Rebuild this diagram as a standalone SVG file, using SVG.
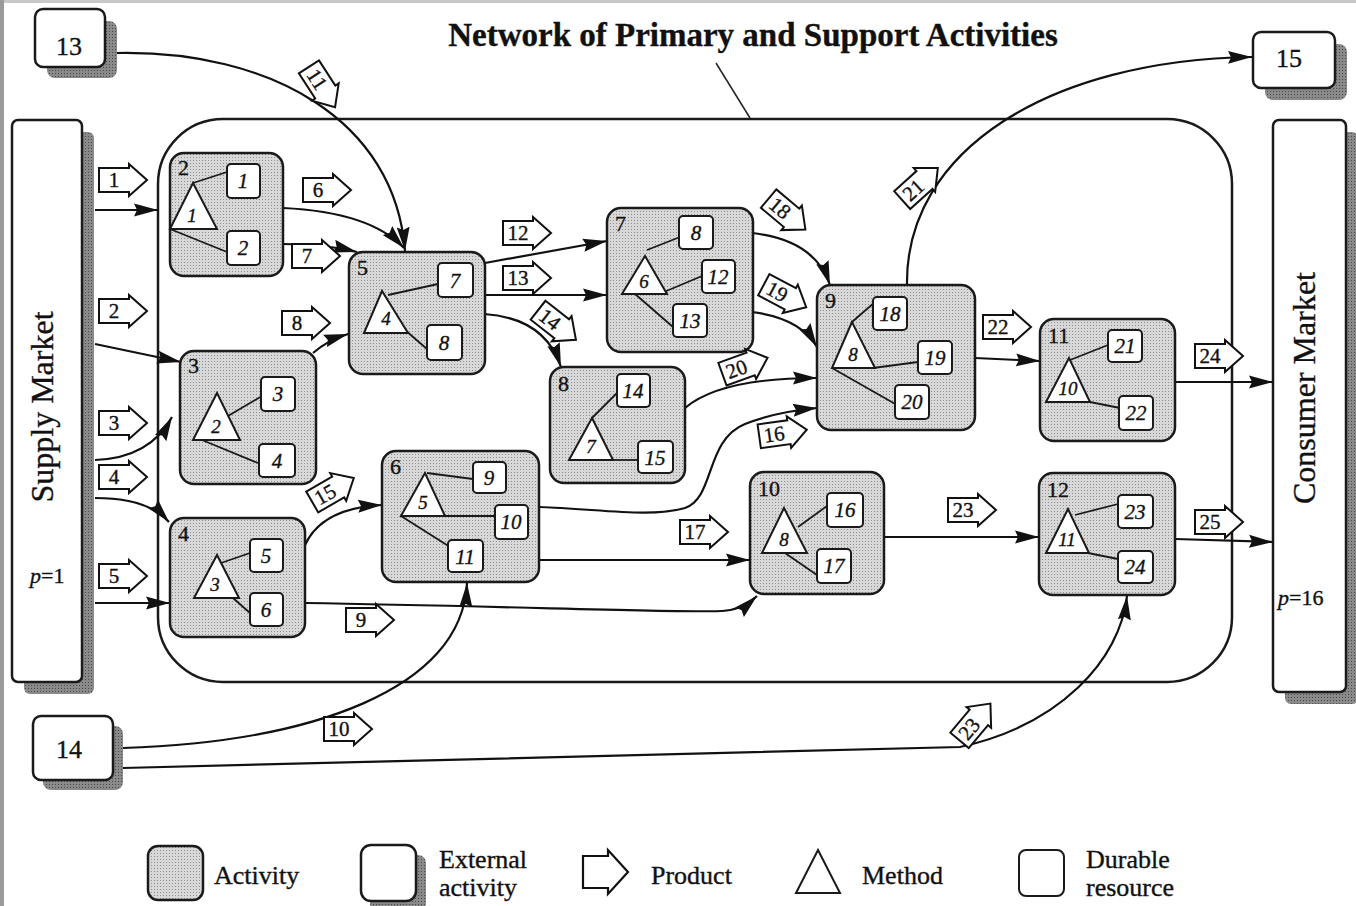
<svg xmlns="http://www.w3.org/2000/svg" width="1356" height="906" viewBox="0 0 1356 906">
<defs>
<pattern id="stip" width="3" height="3" patternUnits="userSpaceOnUse"><rect width="3" height="3" fill="#d8d8d8"/><rect x="1" y="1" width="1" height="1" fill="#8e8e8e"/></pattern>
<pattern id="shade" width="3" height="3" patternUnits="userSpaceOnUse"><rect width="3" height="3" fill="#8a8a8a"/><rect x="1" y="1" width="1" height="1" fill="#4a4a4a"/></pattern>
<marker id="ah" markerUnits="userSpaceOnUse" markerWidth="26" markerHeight="14" refX="24" refY="7" orient="auto"><path d="M0,0.5 L24,7 L0,13.5 L3,7 z" fill="#111"/></marker>
<polygon id="prod" points="-24,-12 6,-12 6,-16 24,0 6,16 6,12 -24,12" fill="#fff" stroke="#111" stroke-width="2" stroke-linejoin="miter"/>
<style>
.act{fill:url(#stip);stroke:#1a1a1a;stroke-width:2.5}
.res{fill:#fff;stroke:#1a1a1a;stroke-width:2}
.tri{fill:#fff;stroke:#1a1a1a;stroke-width:2}
.ln{stroke:#1a1a1a;stroke-width:1.8;fill:none}
.ext{fill:#fff;stroke:#1a1a1a;stroke-width:2.5}
.shd{fill:url(#shade);stroke:none}
.con{fill:none;stroke:#111;stroke-width:2.2;marker-end:url(#ah)}
.t{font-family:"Liberation Serif","Times New Roman",serif;fill:#111;stroke:#111;stroke-width:0.35}
.lab{font-size:22px}
.rn{font-size:21px;font-style:italic;text-anchor:middle}
.tn{font-size:19px;font-style:italic;text-anchor:middle}
.pn{font-size:21px;text-anchor:middle}
.en{font-size:26px;text-anchor:middle}
.leg{font-size:26px}
</style>
</defs>
<rect width="1356" height="906" fill="#fff"/>
<rect x="0" y="0" width="1356" height="3" fill="#c8c8c8"/>
<rect x="0" y="0" width="4" height="906" fill="#9a9a9a"/>

<g id="title">
<text class="t" x="753" y="46" font-size="33" font-weight="bold" text-anchor="middle">Network of Primary and Support Activities</text>
<line x1="716" y1="63" x2="750" y2="118" stroke="#222" stroke-width="1.5"/>
</g>

<g id="network"><rect x="158" y="119" width="1074" height="563" rx="65" fill="none" stroke="#1a1a1a" stroke-width="2.5"/></g>

<g id="supply">
<rect class="shd" x="24" y="132" width="70" height="562" rx="6"/>
<rect class="ext" x="12" y="120" width="70" height="562" rx="6"/>
<text class="t" transform="translate(53,407) rotate(-90)" font-size="32" text-anchor="middle">Supply Market</text>
<text class="t" x="30" y="583" font-size="22"><tspan font-style="italic">p</tspan>=1</text>
</g>
<g id="consumer">
<rect class="shd" x="1285" y="132" width="73" height="572" rx="6"/>
<rect class="ext" x="1273" y="120" width="73" height="572" rx="6"/>
<text class="t" transform="translate(1315,388) rotate(-90)" font-size="32" text-anchor="middle">Consumer Market</text>
<text class="t" x="1278" y="605" font-size="22"><tspan font-style="italic">p</tspan>=16</text>
</g>
<g id="ext13">
<rect class="shd" x="47" y="21" width="70" height="57" rx="8"/>
<rect class="ext" x="35" y="9" width="70" height="58" rx="8"/>
<text class="t en" x="69" y="55">13</text>
</g>
<g id="ext15">
<rect class="shd" x="1265" y="44" width="82" height="56" rx="8"/>
<rect class="ext" x="1253" y="32" width="82" height="56" rx="8"/>
<text class="t en" x="1289" y="67">15</text>
</g>
<g id="ext14">
<rect class="shd" x="43" y="726" width="80" height="64" rx="8"/>
<rect class="ext" x="33" y="716" width="80" height="64" rx="8"/>
<text class="t en" x="69" y="758">14</text>
</g>

<g id="connectors">
<path class="con" d="M95,210 L158,210"/>
<path class="con" d="M95,344 L181,362"/>
<path class="con" d="M95,460 Q150,458 172,417"/>
<path class="con" d="M95,498 Q148,498 169,522"/>
<path class="con" d="M95,603 L170,603"/>
<path class="con" d="M283,208 Q370,212 404,248"/>
<path class="con" d="M283,244 Q325,244 357,252"/>
<path class="con" d="M313,353 Q328,340 348,334"/>
<path class="con" d="M305,603 C500,606 690,613 722,611 Q742,610 757,596"/>
<path class="con" d="M123,748 C310,742 462,690 467,583"/>
<path class="con" d="M117,53 C270,50 395,120 405,251"/>
<path class="con" d="M485,263 L607,241"/>
<path class="con" d="M485,295 L607,295"/>
<path class="con" d="M484,314 Q545,318 561,367"/>
<path class="con" d="M305,545 Q322,508 382,505"/>
<path class="con" d="M539,507 C600,509 650,518 685,508 C715,498 705,440 745,424 Q775,412 817,408"/>
<path class="con" d="M539,560 L750,560"/>
<path class="con" d="M752,233 Q815,240 830,285"/>
<path class="con" d="M752,312 Q800,318 817,347"/>
<path class="con" d="M685,408 Q720,378 817,378"/>
<path class="con" d="M907,285 C905,150 1050,60 1252,57"/>
<path class="con" d="M975,358 L1040,361"/>
<path class="con" d="M884,537 L1039,537"/>
<path class="con" d="M1175,382 L1273,382"/>
<path class="con" d="M1175,539 L1273,542"/>
<path class="con" d="M123,768 L960,747 C1060,725 1120,660 1127,596"/>
</g>

<g id="act2">
<rect class="act" x="170" y="153" width="113" height="123" rx="14"/>
<text class="t lab" x="178" y="175">2</text>
<line class="ln" x1="193" y1="183" x2="227" y2="172"/><line class="ln" x1="170" y1="229" x2="227" y2="252"/>
<polygon class="tri" points="193,183 170,229 217,229"/><text class="t tn" x="192" y="222">1</text>
<rect class="res" x="227" y="164" width="33" height="34" rx="4"/><text class="t rn" x="243" y="188">1</text>
<rect class="res" x="227" y="231" width="33" height="34" rx="4"/><text class="t rn" x="243" y="255">2</text>
</g>
<g id="act3">
<rect class="act" x="180" y="351" width="136" height="133" rx="14"/>
<text class="t lab" x="188" y="373">3</text>
<line class="ln" x1="262" y1="396" x2="228" y2="416"/><line class="ln" x1="202" y1="440" x2="258" y2="463"/>
<polygon class="tri" points="217,393 193,440 240,440"/><text class="t tn" x="216" y="433">2</text>
<rect class="res" x="261" y="377" width="34" height="34" rx="4"/><text class="t rn" x="278" y="401">3</text>
<rect class="res" x="259" y="444" width="36" height="33" rx="4"/><text class="t rn" x="277" y="468">4</text>
</g>
<g id="act4">
<rect class="act" x="170" y="518" width="135" height="119" rx="14"/>
<text class="t lab" x="178" y="541">4</text>
<line class="ln" x1="250" y1="553" x2="221" y2="563"/><line class="ln" x1="233" y1="598" x2="250" y2="613"/>
<polygon class="tri" points="217,555 194,598 239,598"/><text class="t tn" x="215" y="591">3</text>
<rect class="res" x="250" y="539" width="33" height="33" rx="4"/><text class="t rn" x="266" y="563">5</text>
<rect class="res" x="250" y="593" width="33" height="33" rx="4"/><text class="t rn" x="266" y="617">6</text>
</g>
<g id="act5">
<rect class="act" x="349" y="252" width="136" height="122" rx="14"/>
<text class="t lab" x="357" y="275">5</text>
<line class="ln" x1="438" y1="284" x2="388" y2="295"/><line class="ln" x1="405" y1="330" x2="427" y2="349"/>
<polygon class="tri" points="382,291 364,333 408,333"/><text class="t tn" x="386" y="325">4</text>
<rect class="res" x="438" y="263" width="35" height="34" rx="4"/><text class="t rn" x="455" y="288">7</text>
<rect class="res" x="427" y="325" width="35" height="35" rx="4"/><text class="t rn" x="444" y="350">8</text>
</g>
<g id="act6">
<rect class="act" x="382" y="451" width="157" height="131" rx="14"/>
<text class="t lab" x="390" y="474">6</text>
<line class="ln" x1="427" y1="473" x2="473" y2="479"/><line class="ln" x1="445" y1="516" x2="495" y2="516"/><line class="ln" x1="401" y1="516" x2="450" y2="547"/>
<polygon class="tri" points="425,473 401,516 445,516"/><text class="t tn" x="423" y="509">5</text>
<rect class="res" x="473" y="462" width="33" height="31" rx="4"/><text class="t rn" x="489" y="485">9</text>
<rect class="res" x="495" y="505" width="33" height="34" rx="4"/><text class="t rn" x="511" y="529">10</text>
<rect class="res" x="448" y="540" width="35" height="32" rx="4"/><text class="t rn" x="465" y="564">11</text>
</g>
<g id="act7">
<rect class="act" x="607" y="208" width="146" height="144" rx="14"/>
<text class="t lab" x="615" y="231">7</text>
<line class="ln" x1="680" y1="237" x2="647" y2="250"/><line class="ln" x1="702" y1="276" x2="664" y2="292"/><line class="ln" x1="627" y1="287" x2="673" y2="327"/>
<polygon class="tri" points="645,256 622,294 667,294"/><text class="t tn" x="644" y="288">6</text>
<rect class="res" x="679" y="216" width="34" height="33" rx="4"/><text class="t rn" x="696" y="240">8</text>
<rect class="res" x="702" y="260" width="33" height="33" rx="4"/><text class="t rn" x="718" y="284">12</text>
<rect class="res" x="673" y="304" width="34" height="33" rx="4"/><text class="t rn" x="690" y="328">13</text>
</g>
<g id="act8">
<rect class="act" x="550" y="367" width="135" height="116" rx="14"/>
<text class="t lab" x="558" y="391">8</text>
<line class="ln" x1="617" y1="393" x2="592" y2="418"/><line class="ln" x1="613" y1="460" x2="638" y2="460"/>
<polygon class="tri" points="592,418 569,460 613,460"/><text class="t tn" x="591" y="453">7</text>
<rect class="res" x="617" y="374" width="33" height="33" rx="4"/><text class="t rn" x="633" y="398">14</text>
<rect class="res" x="638" y="441" width="35" height="32" rx="4"/><text class="t rn" x="655" y="465">15</text>
</g>
<g id="act9">
<rect class="act" x="817" y="285" width="158" height="145" rx="14"/>
<text class="t lab" x="825" y="308">9</text>
<line class="ln" x1="852" y1="322" x2="875" y2="302"/><line class="ln" x1="873" y1="368" x2="918" y2="362"/><line class="ln" x1="832" y1="368" x2="897" y2="405"/>
<polygon class="tri" points="852,322 832,368 875,368"/><text class="t tn" x="853" y="361">8</text>
<rect class="res" x="873" y="297" width="34" height="33" rx="4"/><text class="t rn" x="890" y="321">18</text>
<rect class="res" x="918" y="341" width="34" height="33" rx="4"/><text class="t rn" x="935" y="365">19</text>
<rect class="res" x="895" y="385" width="34" height="34" rx="4"/><text class="t rn" x="912" y="409">20</text>
</g>
<g id="act10">
<rect class="act" x="750" y="472" width="134" height="122" rx="14"/>
<text class="t lab" x="758" y="496">10</text>
<line class="ln" x1="798" y1="527" x2="827" y2="506"/><line class="ln" x1="785" y1="553" x2="817" y2="575"/>
<polygon class="tri" points="784,508 762,553 807,553"/><text class="t tn" x="784" y="546">8</text>
<rect class="res" x="827" y="493" width="36" height="34" rx="4"/><text class="t rn" x="845" y="517">16</text>
<rect class="res" x="817" y="549" width="34" height="34" rx="4"/><text class="t rn" x="834" y="573">17</text>
</g>
<g id="act11">
<rect class="act" x="1040" y="319" width="135" height="122" rx="14"/>
<text class="t lab" x="1048" y="343">11</text>
<line class="ln" x1="1070" y1="360" x2="1108" y2="345"/><line class="ln" x1="1090" y1="402" x2="1120" y2="408"/>
<polygon class="tri" points="1069,358 1046,402 1090,402"/><text class="t tn" x="1068" y="395">10</text>
<rect class="res" x="1108" y="330" width="34" height="32" rx="4"/><text class="t rn" x="1125" y="353">21</text>
<rect class="res" x="1119" y="396" width="34" height="34" rx="4"/><text class="t rn" x="1136" y="420">22</text>
</g>
<g id="act12">
<rect class="act" x="1039" y="473" width="136" height="122" rx="14"/>
<text class="t lab" x="1047" y="497">12</text>
<line class="ln" x1="1075" y1="515" x2="1118" y2="504"/><line class="ln" x1="1088" y1="553" x2="1118" y2="559"/>
<polygon class="tri" points="1068,509 1046,553 1089,553"/><text class="t tn" x="1067" y="546">11</text>
<rect class="res" x="1118" y="495" width="35" height="33" rx="4"/><text class="t rn" x="1135" y="519">23</text>
<rect class="res" x="1118" y="551" width="35" height="32" rx="4"/><text class="t rn" x="1135" y="574">24</text>
</g>

<g id="products">
<g id="p1" transform="translate(123,180)"><use href="#prod"/><text class="t pn" x="-9" y="7">1</text></g>
<g id="p2" transform="translate(123,311)"><use href="#prod"/><text class="t pn" x="-9" y="7">2</text></g>
<g id="p3" transform="translate(123,423)"><use href="#prod"/><text class="t pn" x="-9" y="7">3</text></g>
<g id="p4" transform="translate(123,477)"><use href="#prod"/><text class="t pn" x="-9" y="7">4</text></g>
<g id="p5" transform="translate(123,576)"><use href="#prod"/><text class="t pn" x="-9" y="7">5</text></g>
<g id="p6" transform="translate(327,190)"><use href="#prod"/><text class="t pn" x="-9" y="7">6</text></g>
<g id="p7" transform="translate(316,256)"><use href="#prod"/><text class="t pn" x="-9" y="7">7</text></g>
<g id="p8" transform="translate(306,323)"><use href="#prod"/><text class="t pn" x="-9" y="7">8</text></g>
<g id="p9" transform="translate(370,620)"><use href="#prod"/><text class="t pn" x="-9" y="7">9</text></g>
<g id="p10" transform="translate(348,729)"><use href="#prod"/><text class="t pn" x="-9" y="7">10</text></g>
<g id="p11" transform="translate(322,87) rotate(57)"><use href="#prod"/><text class="t pn" x="-9" y="7">11</text></g>
<g id="p12" transform="translate(527,233)"><use href="#prod"/><text class="t pn" x="-9" y="7">12</text></g>
<g id="p13" transform="translate(527,278)"><use href="#prod"/><text class="t pn" x="-9" y="7">13</text></g>
<g id="p14" transform="translate(557,325) rotate(38)"><use href="#prod"/><text class="t pn" x="-9" y="7">14</text></g>
<g id="p15" transform="translate(333,490) rotate(-30)"><use href="#prod"/><text class="t pn" x="-9" y="7">15</text></g>
<g id="p16" transform="translate(783,433) rotate(-8)"><use href="#prod"/><text class="t pn" x="-9" y="7">16</text></g>
<g id="p17" transform="translate(704,532)"><use href="#prod"/><text class="t pn" x="-9" y="7">17</text></g>
<g id="p18" transform="translate(787,214) rotate(40)"><use href="#prod"/><text class="t pn" x="-9" y="7">18</text></g>
<g id="p19" transform="translate(785,296) rotate(28)"><use href="#prod"/><text class="t pn" x="-9" y="7">19</text></g>
<g id="p20" transform="translate(745,366) rotate(-20)"><use href="#prod"/><text class="t pn" x="-9" y="7">20</text></g>
<g id="p21" transform="translate(920,184) rotate(-42)"><use href="#prod"/><text class="t pn" x="-9" y="7">21</text></g>
<g id="p22" transform="translate(1007,327)"><use href="#prod"/><text class="t pn" x="-9" y="7">22</text></g>
<g id="p23" transform="translate(972,510)"><use href="#prod"/><text class="t pn" x="-9" y="7">23</text></g>
<g id="p23b" transform="translate(975,722) rotate(-50)"><use href="#prod"/><text class="t pn" x="-9" y="7">23</text></g>
<g id="p24" transform="translate(1219,356)"><use href="#prod"/><text class="t pn" x="-9" y="7">24</text></g>
<g id="p25" transform="translate(1219,522)"><use href="#prod"/><text class="t pn" x="-9" y="7">25</text></g>
</g>

<g id="legend">
<rect class="act" x="148" y="846" width="55" height="54" rx="10"/>
<text class="t leg" x="214" y="884">Activity</text>
<rect class="shd" x="370" y="855" width="56" height="56" rx="8"/>
<rect class="ext" x="361" y="845" width="55" height="56" rx="10"/>
<text class="t leg" x="439" y="868">External</text>
<text class="t leg" x="439" y="896">activity</text>
<polygon points="583,856 608,856 608,850 628,872 608,894 608,888 583,888" fill="#fff" stroke="#111" stroke-width="2.2"/>
<text class="t leg" x="651" y="884">Product</text>
<polygon class="tri" points="818,850 796,893 840,893" stroke-width="2.2"/>
<text class="t leg" x="862" y="884">Method</text>
<rect class="res" x="1019" y="850" width="45" height="46" rx="7" stroke-width="2.5"/>
<text class="t leg" x="1086" y="868">Durable</text>
<text class="t leg" x="1086" y="896">resource</text>
</g>
</svg>
